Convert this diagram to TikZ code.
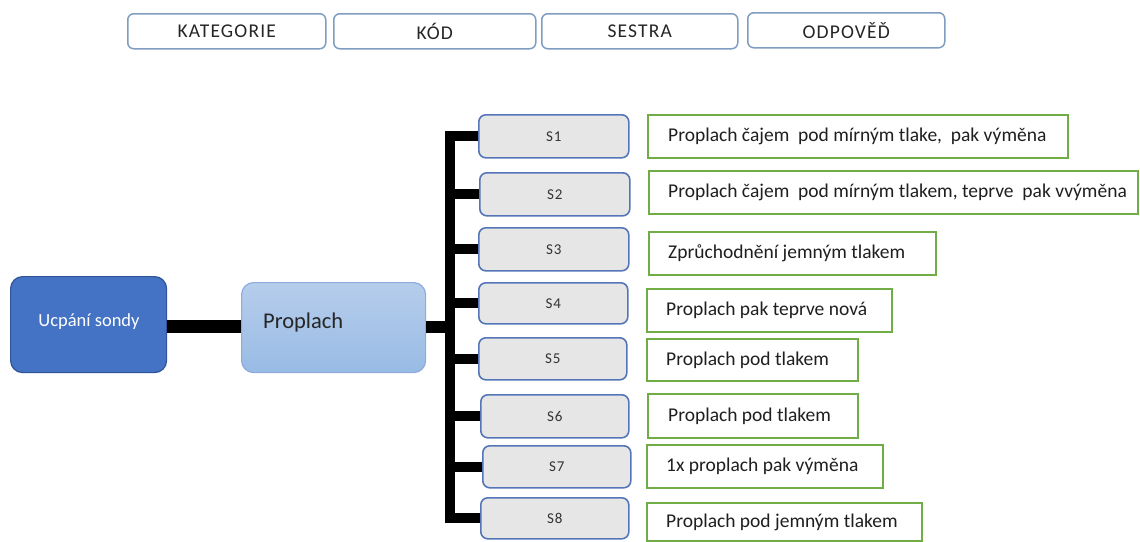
\documentclass[tikz,border=0pt]{standalone}
\usepackage{fontspec}
\setmainfont{Carlito}
\newfontfamily\hdrfont{Carlito}[LetterSpace=6]
\newfontfamily\sfont{Carlito}[LetterSpace=6]
\begin{document}
\begin{tikzpicture}[x=1pt,y=-1pt,
  hdr/.style={draw={rgb,255:red,127;green,157;blue,192}, line width=1.5pt, rounded corners=6pt, fill=white, anchor=north west, font=\hdrfont\fontsize{19.5}{21}\selectfont, text=black!85},
  catbox/.style={draw={rgb,255:red,47;green,85;blue,151}, line width=1.2pt, rounded corners=12pt, fill={rgb,255:red,68;green,114;blue,196}, anchor=north west},
  subbox/.style={draw={rgb,255:red,143;green,170;blue,220}, line width=1.2pt, rounded corners=12pt, top color={rgb,255:red,182;green,205;blue,236}, bottom color={rgb,255:red,152;green,187;blue,228}, anchor=north west},
  sbox/.style={draw={rgb,255:red,84;green,117;blue,184}, line width=1.6pt, rounded corners=7pt, fill={rgb,255:red,231;green,230;blue,230}, anchor=north west, font=\sfont\fontsize{15}{17}\selectfont, text=black!80},
  gbox/.style={draw={rgb,255:red,112;green,173;blue,71}, line width=2pt, fill=white, anchor=north west},
  gtext/.style={anchor=west, font=\fontsize{19.5}{21}\selectfont, text=black!88, inner sep=0pt},
  conn/.style={line width=10pt, line join=miter, black}
]
\useasboundingbox (0,0) rectangle (1140,541);
% header
\node[hdr, minimum width=198pt, minimum height=35pt] (h1) at (127,13) {KATEGORIE};
\node[hdr, minimum width=202pt, minimum height=35pt] (h2) at (333,13) {KÓD};
\node[hdr, minimum width=196pt, minimum height=35pt] (h3) at (541,13) {SESTRA};
\node[hdr, minimum width=197pt, minimum height=35pt] (h4) at (747,12) {ODPOVĚĎ};
% category
\node[catbox, minimum width=156pt, minimum height=96pt] (u) at (10,276) {};
\node[anchor=center, font=\fontsize{18.5}{20}\selectfont, text=white, inner sep=0pt] (ut) at (89,322) {Ucpání sondy};
\node[subbox, minimum width=184pt, minimum height=90pt] (p) at (241,282) {};
\node[anchor=west, font=\fontsize{22.5}{24}\selectfont, text=black!85, inner sep=0pt] (pt) at (263,322) {Proplach};
% S boxes
\node[sbox, minimum width=150pt, minimum height=43pt] (s1) at (478,114) {S1};
\node[sbox, minimum width=150pt, minimum height=43pt] (s2) at (479,172) {S2};
\node[sbox, minimum width=150pt, minimum height=43pt] (s3) at (478,227) {S3};
\node[sbox, minimum width=149pt, minimum height=41pt] (s4) at (478,282) {S4};
\node[sbox, minimum width=148pt, minimum height=42pt] (s5) at (478,337) {S5};
\node[sbox, minimum width=148pt, minimum height=43pt] (s6) at (480,394) {S6};
\node[sbox, minimum width=148pt, minimum height=42pt] (s7) at (482,445) {S7};
\node[sbox, minimum width=148pt, minimum height=41pt] (s8) at (480,497) {S8};
% answers
\node[gbox, minimum width=420pt, minimum height=43pt] (g1) at (647,114) {};
\node[gbox, minimum width=489pt, minimum height=43pt] (g2) at (648,170) {};
\node[gbox, minimum width=287pt, minimum height=43pt] (g3) at (648,231) {};
\node[gbox, minimum width=245pt, minimum height=43pt] (g4) at (646,288) {};
\node[gbox, minimum width=211pt, minimum height=42pt] (g5) at (646,338) {};
\node[gbox, minimum width=210pt, minimum height=44pt] (g6) at (647,393) {};
\node[gbox, minimum width=236pt, minimum height=43pt] (g7) at (646,444) {};
\node[gbox, minimum width=275pt, minimum height=38pt] (g8) at (646,502) {};
\node[gtext] (t1) at ([xshift=21pt]g1.west) {Proplach čajem \ pod mírným tlake, \ pak výměna};
\node[gtext] (t2) at ([xshift=20pt]g2.west) {Proplach čajem \ pod mírným tlakem, teprve \ pak vvýměna};
\node[gtext] (t3) at ([xshift=20pt]g3.west) {Zprůchodnění jemným tlakem};
\node[gtext] (t4) at ([xshift=20pt]g4.west) {Proplach pak teprve nová};
\node[gtext] (t5) at ([xshift=20pt]g5.west) {Proplach pod tlakem};
\node[gtext] (t6) at ([xshift=21pt]g6.west) {Proplach pod tlakem};
\node[gtext] (t7) at ([xshift=20pt]g7.west) {1x proplach pak výměna};
\node[gtext] (t8) at ([xshift=20pt]g8.west) {Proplach pod jemným tlakem};
% connectors
\coordinate (bus) at (450,0);
\draw[conn, line width=13pt] (u.east |- 0,326) -- (p.west |- 0,326);
\draw[conn, line width=12pt] (p.east |- 0,327) -- (bus |- 0,327);
\draw[conn] (s1.west) -- (s1.west -| bus) -- (s8.west -| bus) -- (s8.west);
\foreach \s in {s2,s3,s4,s5,s6,s7}{\draw[conn] (\s.west -| bus) -- (\s.west);}
\end{tikzpicture}
\end{document}
